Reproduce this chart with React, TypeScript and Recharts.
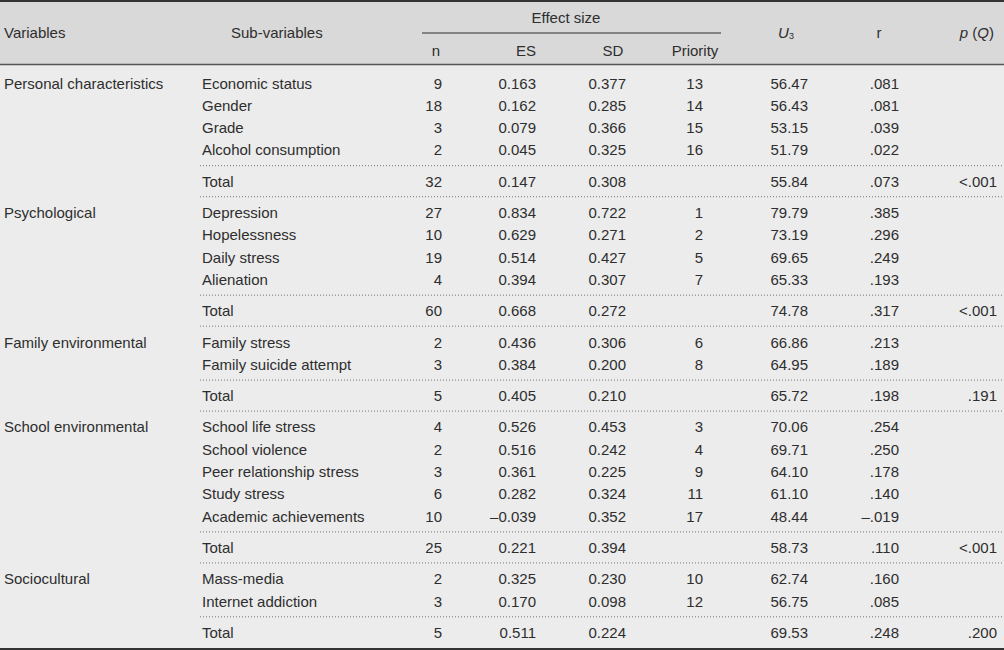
import { ScatterChart, Scatter, XAxis, YAxis, ReferenceLine, ReferenceArea } from 'recharts';

const groups = [
  'Personal characteristics',
  'Psychological',
  'Family environmental',
  'School environmental',
  'Sociocultural',
];
const groupSizes = [4, 4, 2, 5, 2];

const subVariables = [
  'Economic status', 'Gender', 'Grade', 'Alcohol consumption',
  'Depression', 'Hopelessness', 'Daily stress', 'Alienation',
  'Family stress', 'Family suicide attempt',
  'School life stress', 'School violence', 'Peer relationship stress', 'Study stress', 'Academic achievements',
  'Mass-media', 'Internet addiction',
];
const nValues = [9, 18, 3, 2, 27, 10, 19, 4, 2, 3, 4, 2, 3, 6, 10, 2, 3];
const esValues = [0.163, 0.162, 0.079, 0.045, 0.834, 0.629, 0.514, 0.394, 0.436, 0.384, 0.526, 0.516, 0.361, 0.282, -0.039, 0.325, 0.17];
const sdValues = [0.377, 0.285, 0.366, 0.325, 0.722, 0.271, 0.427, 0.307, 0.306, 0.2, 0.453, 0.242, 0.225, 0.324, 0.352, 0.23, 0.098];
const priorities = [13, 14, 15, 16, 1, 2, 5, 7, 6, 8, 3, 4, 9, 11, 17, 10, 12];
const u3Values = [56.47, 56.43, 53.15, 51.79, 79.79, 73.19, 69.65, 65.33, 66.86, 64.95, 70.06, 69.71, 64.1, 61.1, 48.44, 62.74, 56.75];
const rValues = [0.081, 0.081, 0.039, 0.022, 0.385, 0.296, 0.249, 0.193, 0.213, 0.189, 0.254, 0.25, 0.178, 0.14, -0.019, 0.16, 0.085];

const totalN = [32, 60, 5, 25, 5];
const totalES = [0.147, 0.668, 0.405, 0.221, 0.511];
const totalSD = [0.308, 0.272, 0.21, 0.394, 0.224];
const totalU3 = [55.84, 74.78, 65.72, 58.73, 69.53];
const totalR = [0.073, 0.317, 0.198, 0.11, 0.248];
const totalP = ['<.001', '<.001', '.191', '<.001', '.200'];

const W = 1004;
const H = 650;
const TEXT = '#2e2e2e';
const FONT = '"Liberation Sans", Arial, sans-serif';

const fmt3 = (v: number) => (v < 0 ? '–' : '') + Math.abs(v).toFixed(3);
const fmtR = (v: number) => (v < 0 ? '–' : '') + Math.abs(v).toFixed(3).replace(/^0/, '');

type Row = { y: number; total: boolean; [k: string]: any };

// layout: body rows at a fixed pitch, total rows get extra room for the dotted rules
const FIRST_Y = 83;
const PITCH = 22.3;
const TOTAL_GAP = 31.3;

function buildRows() {
  const rows: Row[] = [];
  let y = FIRST_Y;
  let k = 0;
  groups.forEach((g, gi) => {
    for (let j = 0; j < groupSizes[gi]; j++) {
      rows.push({
        y, total: false,
        group: j === 0 ? g : '',
        sub: subVariables[k],
        n: String(nValues[k]),
        es: fmt3(esValues[k]),
        sd: fmt3(sdValues[k]),
        pr: String(priorities[k]),
        u3: u3Values[k].toFixed(2),
        r: fmtR(rValues[k]),
        p: '',
      });
      k++;
      if (j < groupSizes[gi] - 1) y += PITCH;
    }
    y += TOTAL_GAP;
    rows.push({
      y, total: true, group: '', sub: 'Total',
      n: String(totalN[gi]), es: fmt3(totalES[gi]), sd: fmt3(totalSD[gi]), pr: '',
      u3: totalU3[gi].toFixed(2), r: fmtR(totalR[gi]), p: totalP[gi],
    });
    y += TOTAL_GAP;
  });
  return rows;
}

const columns = [
  { key: 'group', x: 4, anchor: 'start' },
  { key: 'sub', x: 202, anchor: 'start' },
  { key: 'n', x: 442, anchor: 'end' },
  { key: 'es', x: 536, anchor: 'end' },
  { key: 'sd', x: 626, anchor: 'end' },
  { key: 'pr', x: 703, anchor: 'end' },
  { key: 'u3', x: 808, anchor: 'end' },
  { key: 'r', x: 899, anchor: 'end' },
  { key: 'p', x: 997, anchor: 'end' },
];

const header = [
  { x: 4, y: 32, text: 'Variables', anchor: 'start' },
  { x: 231, y: 32, text: 'Sub-variables', anchor: 'start' },
  { x: 566, y: 17, text: 'Effect size', anchor: 'middle' },
  { x: 436, y: 50, text: 'n', anchor: 'middle' },
  { x: 536, y: 50, text: 'ES', anchor: 'end' },
  { x: 613, y: 50, text: 'SD', anchor: 'middle' },
  { x: 695, y: 50, text: 'Priority', anchor: 'middle' },
  { x: 786, y: 32, text: 'U3', anchor: 'middle' },
  { x: 879, y: 32, text: 'r', anchor: 'middle' },
  { x: 994, y: 32, text: 'p(Q)', anchor: 'end' },
];

const cellShape = (anchor: string) => (props: any) => {
  const { cx, cy, payload } = props;
  let content: any = payload.text;
  if (payload.text === 'U3') {
    content = [
      <tspan key="u" fontStyle="italic">U</tspan>,
      <tspan key="3" fontSize={9} dy={4}>3</tspan>,
    ];
  } else if (payload.text === 'p(Q)') {
    content = [
      <tspan key="p" fontStyle="italic">p</tspan>,
      <tspan key="o"> (</tspan>,
      <tspan key="q" fontStyle="italic">Q</tspan>,
      <tspan key="c">)</tspan>,
    ];
  }
  return (
    <text
      x={cx}
      y={cy}
      textAnchor={anchor as any}
      dominantBaseline="central"
      fontFamily={FONT}
      fontSize={15}
      fill={TEXT}
    >
      {content}
    </text>
  );
};

export default function App() {
  const rows = buildRows();
  const totals = rows.filter((r) => r.total);

  return (
    <div style={{ position: 'absolute', left: 0, top: 0, width: W, height: H }}>
      <ScatterChart width={W} height={H} margin={{ top: 0, right: 0, bottom: 0, left: 0 }}>
        <XAxis type="number" dataKey="x" domain={[0, W]} hide allowDataOverflow />
        <YAxis type="number" dataKey="y" domain={[0, H]} reversed hide allowDataOverflow />

        <ReferenceArea x1={0} x2={W} y1={0} y2={65} fill="#d9d9d9" fillOpacity={1} stroke="none" />
        <ReferenceArea x1={0} x2={W} y1={65} y2={H} fill="#ececec" fillOpacity={1} stroke="none" />

        <ReferenceLine segment={[{ x: 0, y: 1 }, { x: W, y: 1 }]} stroke="#333" strokeWidth={2} />
        <ReferenceLine segment={[{ x: 0, y: 64.5 }, { x: W, y: 64.5 }]} stroke="#555" strokeWidth={1.5} />
        <ReferenceLine segment={[{ x: 422, y: 33 }, { x: 721, y: 33 }]} stroke="#666" strokeWidth={1.5} />
        <ReferenceLine segment={[{ x: 0, y: 649 }, { x: W, y: 649 }]} stroke="#333" strokeWidth={2} />

        {totals.map((t, i) => (
          <ReferenceLine
            key={`a${i}`}
            segment={[{ x: 200, y: t.y - 15.5 }, { x: W, y: t.y - 15.5 }]}
            stroke="#777"
            strokeDasharray="1 2"
          />
        ))}
        {totals.slice(0, -1).map((t, i) => (
          <ReferenceLine
            key={`b${i}`}
            segment={[{ x: 200, y: t.y + 15.5 }, { x: W, y: t.y + 15.5 }]}
            stroke="#777"
            strokeDasharray="1 2"
          />
        ))}

        {['start', 'middle', 'end'].map((a) => (
          <Scatter
            key={`h-${a}`}
            data={header.filter((h) => h.anchor === a)}
            shape={cellShape(a)}
            isAnimationActive={false}
          />
        ))}

        {columns.map((c) => (
          <Scatter
            key={c.key}
            data={rows
              .filter((r) => r[c.key] !== '')
              .map((r) => ({ x: c.x, y: r.y, text: r[c.key] }))}
            shape={cellShape(c.anchor)}
            isAnimationActive={false}
          />
        ))}
      </ScatterChart>
    </div>
  );
}
